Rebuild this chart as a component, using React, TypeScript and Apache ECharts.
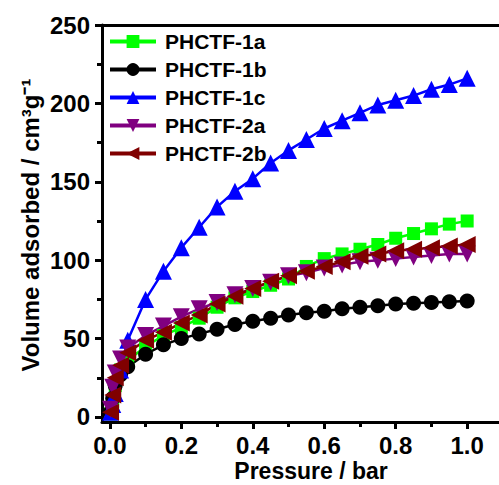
import React, { useEffect, useRef } from "react";
import * as echarts from "echarts";

const pressure = [0.002, 0.008, 0.015, 0.03, 0.05, 0.1, 0.15, 0.2, 0.25, 0.3, 0.35, 0.4, 0.45, 0.5, 0.55, 0.6, 0.65, 0.7, 0.75, 0.8, 0.85, 0.9, 0.95, 1.0];
const phctf1a = [2, 10, 20, 30, 36, 45, 52, 57, 63, 70, 76, 80, 84, 88, 96, 101, 104, 107, 110, 114, 117, 120, 123, 125];
const phctf1b = [3, 12, 20, 27, 32, 40, 46, 50, 53, 56, 59, 61, 63, 65, 66.5, 67.5, 69, 70, 71, 72, 72.5, 73, 73.5, 74];
const phctf1c = [3, 8, 15, 30, 49, 75, 93, 108, 121, 134, 144, 152, 162, 170, 177, 184, 189, 194, 199, 202, 205, 209, 212, 216];
const phctf2a = [5, 19, 28, 37, 44, 52, 58, 64, 69, 73, 78, 82, 86, 90, 92, 95, 97, 99, 100, 101, 102, 103, 104, 104];
const phctf2b = [3, 14, 25, 33, 41, 49, 54, 60, 65, 72, 77, 82, 86.5, 90, 93, 96, 99, 102.5, 104, 106, 107, 108, 109, 110];

const seriesNames = ["PHCTF-1a", "PHCTF-1b", "PHCTF-1c", "PHCTF-2a", "PHCTF-2b"];
const xMajorTicks = [0, 0.2, 0.4, 0.6, 0.8, 1.0];
const xMinorTicks = [0.1, 0.3, 0.5, 0.7, 0.9];
const yMajorTicks = [0, 50, 100, 150, 200, 250];
const yMinorTicks = [25, 75, 125, 175, 225];

const FONT = "'Liberation Sans', Arial, sans-serif";

export default function App() {
  const ref = useRef<HTMLDivElement>(null);
  useEffect(() => {
    document.body.style.margin = "0";
    const chart = echarts.init(ref.current!, null, { renderer: "svg" });
    const XMIN = -0.022;
    const XMAX = -0.022 + 400 / 360;
    const YMIN = -3.2;
    const YMAX = 250;
    const mk = (name: string, data: number[], color: string, symbol: string, size: number, rotate = 0) => ({
      name,
      type: "line",
      data: pressure.map((p, i) => [p, data[i]]),
      symbol,
      symbolSize: size,
      symbolRotate: rotate,
      showAllSymbol: true,
      lineStyle: { color, width: 2.5 },
      itemStyle: { color },
      z: 3,
    });
    chart.setOption({
      animation: false,
      backgroundColor: "#fff",
      textStyle: { fontFamily: FONT },
      grid: {
        left: 102,
        top: 25,
        width: 400,
        height: 397,
        show: false,
        containLabel: false,
      },
      legend: {
        orient: "vertical",
        left: 108,
        top: 31,
        itemWidth: 46,
        itemHeight: 16,
        itemGap: 7,
        padding: 0,
        data: seriesNames,
        lineStyle: { width: 4 },
        textStyle: { fontSize: 21, lineHeight: 20, fontWeight: "bold", color: "#000", fontFamily: FONT, padding: [0, 0, 0, 4] },
      },
      xAxis: [
        {
          type: "value",
          min: XMIN,
          max: XMAX,
          position: "bottom",
          axisLine: { show: true, onZero: false, lineStyle: { color: "#000", width: 3 } },
          axisTick: { show: true, inside: false, length: 7, customValues: xMajorTicks, lineStyle: { color: "#000", width: 3 } },
          axisLabel: {
            show: true,
            customValues: xMajorTicks,
            margin: 11,
            fontSize: 24,
            fontWeight: "bold",
            color: "#000",
            fontFamily: FONT,
            formatter: (v: number) => v.toFixed(1),
          },
          splitLine: { show: false },
        },
        {
          type: "value",
          min: XMIN,
          max: XMAX,
          position: "bottom",
          axisLine: { show: false, onZero: false },
          axisTick: { show: true, inside: false, length: 5, customValues: xMinorTicks, lineStyle: { color: "#000", width: 3 } },
          axisLabel: { show: false },
          splitLine: { show: false },
        },
        {
          type: "value",
          min: XMIN,
          max: XMAX,
          position: "top",
          axisLine: { show: true, onZero: false, lineStyle: { color: "#000", width: 3 } },
          axisTick: { show: false },
          axisLabel: { show: false },
          splitLine: { show: false },
        },
      ],
      yAxis: [
        {
          type: "value",
          min: YMIN,
          max: YMAX,
          position: "left",
          axisLine: { show: true, onZero: false, lineStyle: { color: "#000", width: 3 } },
          axisTick: { show: true, inside: false, length: 7, customValues: yMajorTicks, lineStyle: { color: "#000", width: 3 } },
          axisLabel: {
            show: true,
            customValues: yMajorTicks,
            margin: 12,
            fontSize: 24,
            fontWeight: "bold",
            color: "#000",
            fontFamily: FONT,
          },
          splitLine: { show: false },
        },
        {
          type: "value",
          min: YMIN,
          max: YMAX,
          position: "left",
          axisLine: { show: false, onZero: false },
          axisTick: { show: true, inside: false, length: 5, customValues: yMinorTicks, lineStyle: { color: "#000", width: 3 } },
          axisLabel: { show: false },
          splitLine: { show: false },
        },
      ],
      graphic: [
        {
          type: "text",
          x: 311,
          y: 471,
          style: {
            text: "Pressure / bar",
            fontSize: 23,
            fontWeight: "bold",
            fill: "#000",
            fontFamily: FONT,
            align: "center",
            verticalAlign: "middle",
          },
        },
        {
          type: "text",
          x: 30,
          y: 225,
          rotation: Math.PI / 2,
          style: {
            text: "Volume adsorbed / cm³g⁻¹",
            fontSize: 24,
            fontWeight: "bold",
            fill: "#000",
            fontFamily: FONT,
            align: "center",
            verticalAlign: "middle",
          },
        },
      ],
      series: [
        mk(seriesNames[0], phctf1a, "#00ff00", "rect", 13),
        mk(seriesNames[1], phctf1b, "#000000", "circle", 15),
        mk(seriesNames[2], phctf1c, "#0000ff", "triangle", 17),
        mk(seriesNames[3], phctf2a, "#800080", "triangle", 17, 180),
        mk(seriesNames[4], phctf2b, "#800000", "triangle", 17, 90),
      ],
    });
    return () => chart.dispose();
  }, []);
  return <div ref={ref} style={{ width: 499, height: 485 }} />;
}
